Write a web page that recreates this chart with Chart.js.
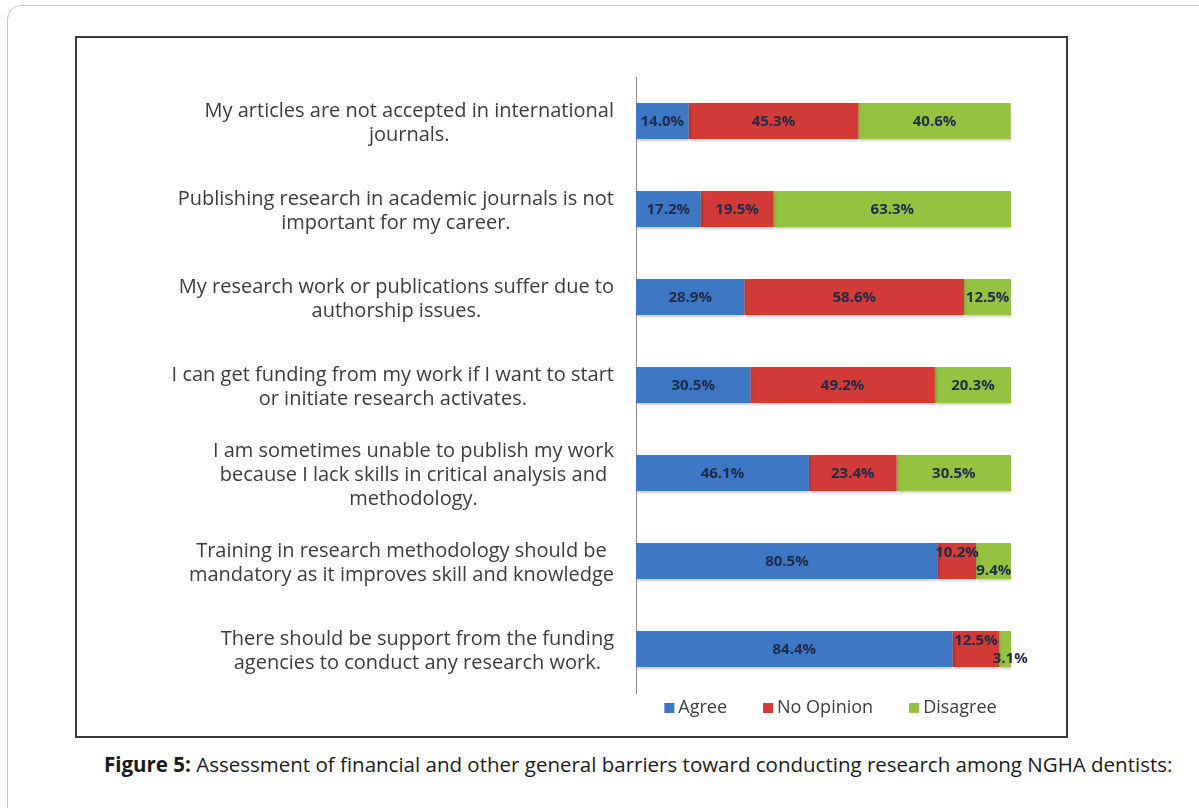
<!DOCTYPE html>
<html>
<head>
<meta charset="utf-8">
<script src="https://cdn.jsdelivr.net/npm/chart.js@4.4.0/dist/chart.umd.min.js"></script>
<style>
  body { margin: 0; background: #fff; width: 1199px; height: 808px; overflow: hidden; position: relative; }
  #frame { position: absolute; left: 7px; top: 5px; width: 1260px; height: 860px; border: 1.5px solid #c4c4c4; border-radius: 14px; }
  #box { position: absolute; left: 75px; top: 36px; width: 993px; height: 702px; border: 2px solid #3a3a3a; box-sizing: border-box; }
  #wrap { position: absolute; left: 80px; top: 40px; width: 985px; height: 695px; }
  #caption { position: absolute; left: 104px; top: 750px; font-family: "Open Sans"; font-size: 20.5px; line-height: 28px; color: #1a1a1a; white-space: nowrap; }
  #caption b { font-weight: 700; }
</style>
</head>
<body>
<div id="frame"></div>
<div id="box"></div>
<div id="wrap"><canvas id="barChart"></canvas></div>
<div id="caption"><b>Figure 5:</b> Assessment of financial and other general barriers toward conducting research among NGHA dentists:</div>

<script>
const categories = [
    ['My articles are not accepted in international', 'journals.'],
    ['Publishing research in academic journals is not', 'important for my career.'],
    ['My research work or publications suffer due to', 'authorship issues.'],
    ['I can get funding from my work if I want to start', 'or initiate research activates.'],
    ['I am sometimes unable to publish my work', 'because I lack skills in critical analysis and', 'methodology.'],
    ['Training in research methodology should be', 'mandatory as it improves skill and knowledge'],
    ['There should be support from the funding', 'agencies to conduct any research work.']
];
const seriesNames = ['Agree', 'No Opinion', 'Disagree'];
const agree = [14.0, 17.2, 28.9, 30.5, 46.1, 80.5, 84.4];
const noOpinion = [45.3, 19.5, 58.6, 49.2, 23.4, 10.2, 12.5];
const disagree = [40.6, 63.3, 12.5, 20.3, 30.5, 9.4, 3.1];

const colors = ['#3e77c4', '#d23b37', '#95c240'];

// soft drop shadow under the bars, like the office chart
const barShadow = {
    id: 'barShadow',
    beforeDatasetsDraw(chart) {
        const ctx = chart.ctx;
        ctx.save();
        ctx.shadowColor = 'rgba(0,0,0,0.25)';
        ctx.shadowBlur = 3;
        ctx.shadowOffsetX = 1;
        ctx.shadowOffsetY = 2;
    },
    afterDatasetsDraw(chart) {
        chart.ctx.restore();
    }
};

const valueLabels = {
    id: 'valueLabels',
    afterDatasetsDraw(chart) {
        const ctx = chart.ctx;
        ctx.save();
        ctx.font = 'bold 15px "Open Sans"';
        ctx.fillStyle = '#1e2b48';
        ctx.textAlign = 'center';
        ctx.textBaseline = 'middle';
        chart.data.datasets.forEach((ds, di) => {
            chart.getDatasetMeta(di).data.forEach((bar, i) => {
                let dx = 0, dy = 1;
                // both small segments: push them apart so they don't overlap
                const tight = noOpinion[i] < 13 && disagree[i] < 13;
                if (tight && di === 1) dy = -8;
                if (tight && di === 2) {
                    dy = 10;
                    if (Math.abs(bar.x - bar.base) < 20) dx = 5;
                }
                ctx.fillText(ds.data[i].toFixed(1) + '%', (bar.x + bar.base) / 2 + dx, bar.y + dy);
            });
        });
        ctx.restore();
    }
};

// office style category text: each block right aligned, lines centred inside it
const categoryLabels = {
    id: 'categoryLabels',
    afterDraw(chart) {
        const ctx = chart.ctx;
        const yScale = chart.scales.y;
        const right = chart.chartArea.left - 22;
        const lineH = 24;
        ctx.save();
        ctx.font = '20px "Open Sans"';
        ctx.fillStyle = '#3c3c3c';
        ctx.textAlign = 'center';
        ctx.textBaseline = 'middle';
        categories.forEach((lines, i) => {
            const w = Math.max(...lines.map(l => ctx.measureText(l).width));
            const cx = right - w / 2;
            const y0 = yScale.getPixelForValue(i) + 2 - (lines.length - 1) * lineH / 2;
            lines.forEach((l, k) => ctx.fillText(l, cx, y0 + k * lineH));
        });
        ctx.restore();
    }
};

const bottomLegend = {
    id: 'bottomLegend',
    afterDraw(chart) {
        const ctx = chart.ctx;
        const area = chart.chartArea;
        ctx.save();
        ctx.font = '18px "Open Sans"';
        ctx.textBaseline = 'middle';
        const box = 10, gap = 4, space = 36;
        const items = chart.data.datasets.map(ds => ({
            text: ds.label,
            color: ds.backgroundColor,
            w: box + gap + ctx.measureText(ds.label).width
        }));
        const total = items.reduce((s, it) => s + it.w, 0) + space * (items.length - 1);
        let x = (area.left + area.right) / 2 + 7 - total / 2;
        const y = area.bottom + 15;
        items.forEach(it => {
            ctx.fillStyle = it.color;
            ctx.fillRect(x, y - box / 2, box, box);
            ctx.fillStyle = '#3c3c3c';
            ctx.fillText(it.text, x + box + gap, y);
            x += it.w + space;
        });
        ctx.restore();
    }
};

function BarChart() {
    const ctx = document.getElementById('barChart');
    const myChart = new Chart(ctx, {
        type: 'bar',
        data: {
            labels: categories,
            datasets: [
                { label: seriesNames[0], data: agree, backgroundColor: colors[0] },
                { label: seriesNames[1], data: noOpinion, backgroundColor: colors[1] },
                { label: seriesNames[2], data: disagree, backgroundColor: colors[2] }
            ]
        },
        options: {
            indexAxis: 'y',
            responsive: true,
            maintainAspectRatio: false,
            animation: false,
            datasets: {
                bar: { barPercentage: 0.41, categoryPercentage: 1 }
            },
            layout: { padding: { top: 37, bottom: 42, right: 54, left: 0 } },
            scales: {
                x: { stacked: true, min: 0, max: 100, display: false },
                y: {
                    stacked: true,
                    grid: { display: false, drawTicks: false },
                    border: { display: true, color: '#8c8c8c', width: 1 },
                    ticks: { display: false },
                    afterFit(scale) { scale.width = 556; }
                }
            },
            plugins: {
                legend: { display: false },
                tooltip: { enabled: false }
            }
        },
        plugins: [barShadow, valueLabels, categoryLabels, bottomLegend]
    });
}

Promise.all([
    document.fonts.load('20px "Open Sans"'),
    document.fonts.load('bold 15px "Open Sans"'),
    document.fonts.load('bold 20px "Open Sans"')
]).then(BarChart, BarChart);
</script>
</body>
</html>
